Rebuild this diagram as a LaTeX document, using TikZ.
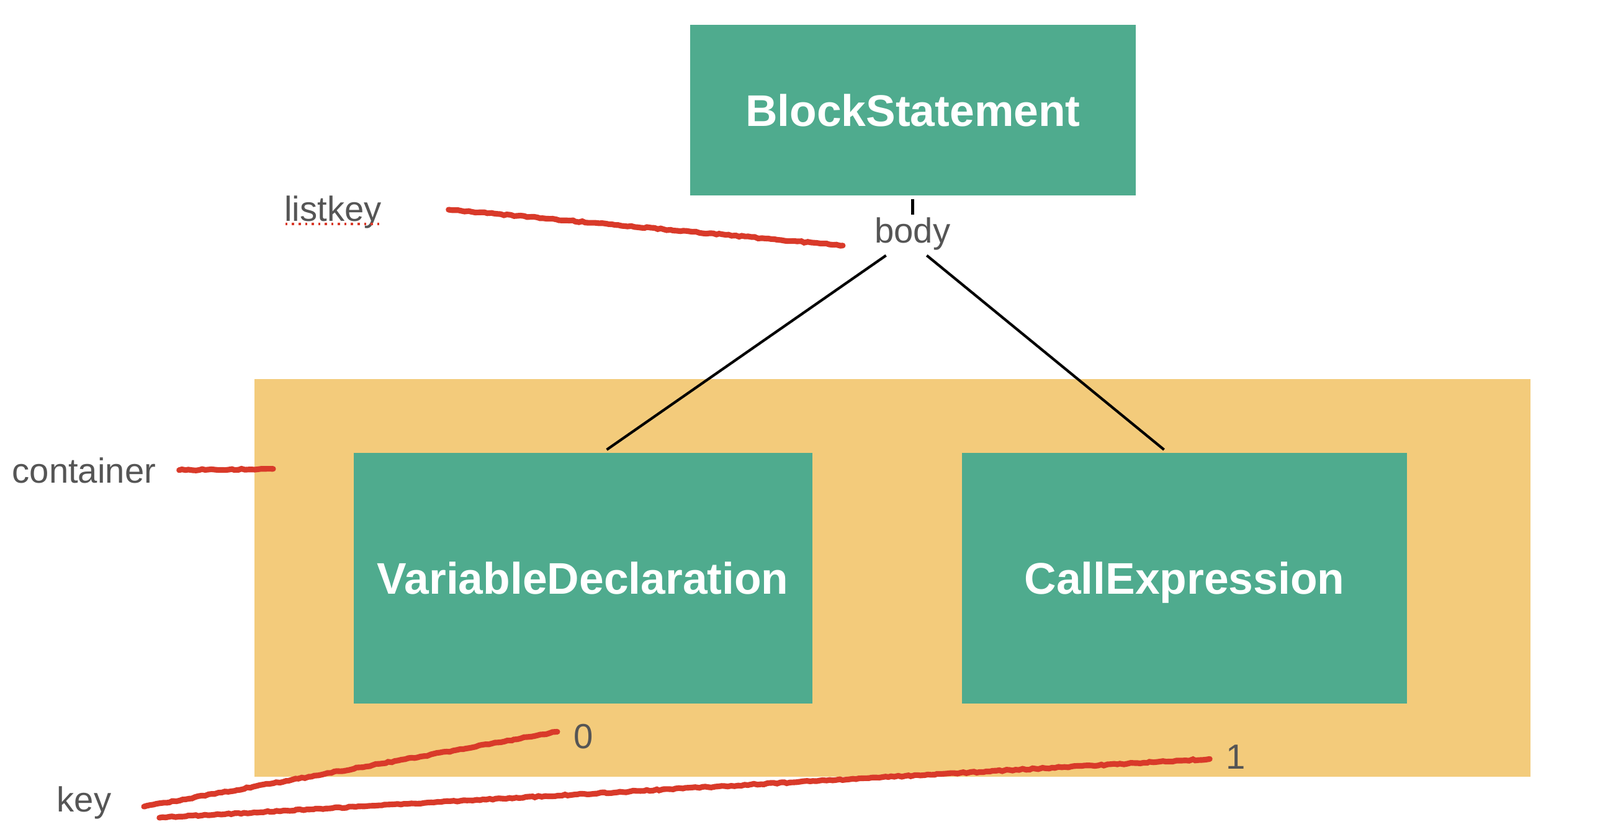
\documentclass[tikz,border=0pt]{standalone}
\usepackage{fontspec}
\setmainfont{Liberation Sans}
\usetikzlibrary{decorations.pathmorphing}
\definecolor{boxgreen}{HTML}{4FAB8E}
\definecolor{contorange}{HTML}{F3CB7B}
\definecolor{scribred}{HTML}{D93A2A}
\definecolor{labgrey}{HTML}{555555}
\tikzset{
  greenbox/.style={fill=boxgreen, draw=none, text=white, font=\fontsize{20.3}{24}\selectfont\bfseries, inner sep=0pt, text height=14.7pt, text depth=0pt},
  lab/.style={text=labgrey, font=\fontsize{16}{19}\selectfont, inner sep=0pt, text height=11.6pt, text depth=0pt},
  conn/.style={draw=black, line width=1.2pt},
  scrib/.style={draw=scribred, line width=2.6pt, line cap=round,
    decorate, decoration={random steps, segment length=1.5pt, amplitude=0.3pt}},
}
\begin{document}
\begin{tikzpicture}[x=0.009955cm, y=-0.00997cm]
\useasboundingbox[fill=white] (0,0) rectangle (2589.6,1336);
% container
\node[fill=contorange, draw=none, minimum width=20.54cm, minimum height=6.41cm, inner sep=0pt] (cont) at (1444.5,934.5) {};
% boxes
\node[greenbox, minimum width=7.18cm, minimum height=2.75cm] (bs) at (1477.5,178) {BlockStatement};
\node[greenbox, minimum width=7.38cm, minimum height=4.04cm] (vd) at (943.5,934.5) {VariableDeclaration};
\node[greenbox, minimum width=7.17cm, minimum height=4.04cm] (ce) at (1917,934.5) {CallExpression};
% labels
\node[lab] (body) at (1477,372) {body};
\node[lab] (listkey) at (539,337) {listkey};
\node[lab] (container) at (136,760) {container};
\node[lab] (key) at (136,1292) {key};
\node[lab] (zero) at (944,1190) {0};
\node[lab] (one) at (2000,1223) {1};
% connector coordinates
\coordinate (tickA) at (1477,322);
\coordinate (tickB) at (1477,347);
\coordinate (bodyL) at (1434,413);
\coordinate (bodyR) at (1500,413);
\coordinate (vdT) at (982,727);
\coordinate (ceT) at (1884,727);
\draw[conn] (tickA) -- (tickB);
\draw[conn] (bodyL) -- (vdT);
\draw[conn] (bodyR) -- (ceT);
% red scribbles
\coordinate (lkA) at (726,339);
\coordinate (lkB) at (1364,397);
\coordinate (ctA) at (290,760);
\coordinate (ctB) at (442,758);
\coordinate (k1A) at (233,1304);
\coordinate (k1B) at (902,1183);
\coordinate (k2A) at (258,1322);
\coordinate (k2B) at (1958,1227);
\draw[scrib] (lkA) -- (lkB);
\draw[scrib] (ctA) -- (ctB);
\draw[scrib] (k1A) -- (k1B);
\draw[scrib] (k2A) -- (k2B);
% spell-check underline
\coordinate (ulA) at (462,362);
\coordinate (ulB) at (617,362);
\draw[draw=scribred, line width=1pt, dotted] (ulA) -- (ulB);
\end{tikzpicture}
\end{document}
